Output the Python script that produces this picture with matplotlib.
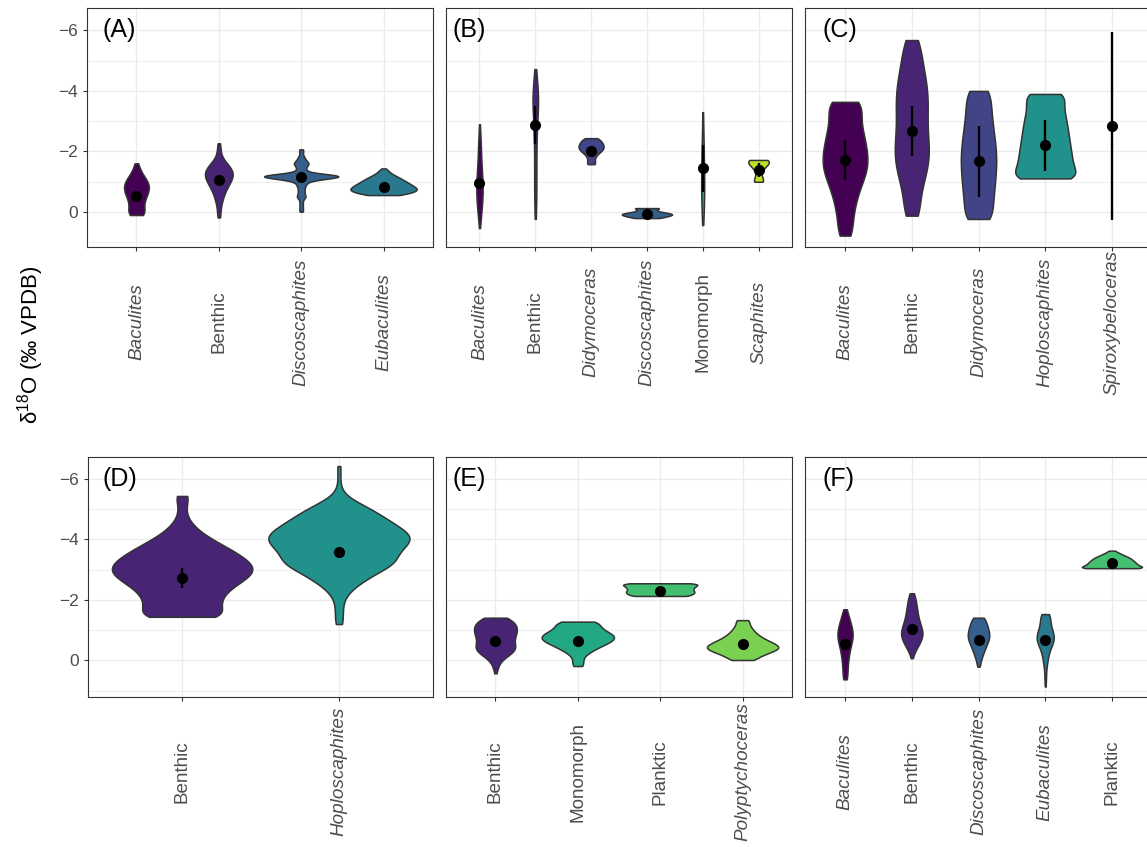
import numpy as np
import matplotlib
matplotlib.use("Agg")
import matplotlib.pyplot as plt
from matplotlib import cbook
from matplotlib.transforms import blended_transform_factory

plt.rcParams["font.family"] = ["Liberation Sans", "DejaVu Sans"]
plt.rcParams["mathtext.fontset"] = "custom"
plt.rcParams["mathtext.rm"] = "Liberation Sans"

# all taxa, in the order used for the colour scale
all_taxa = ["Baculites", "Benthic", "Didymoceras", "Discoscaphites", "Eubaculites",
            "Hoploscaphites", "Monomorph", "Planktic", "Polyptychoceras", "Scaphites",
            "Spiroxybeloceras"]
plain_taxa = ["Benthic", "Monomorph", "Planktic"]

# observations are stored as d18O values with the number of samples at each value

# (A)
a_taxa = ["Baculites", "Benthic", "Discoscaphites", "Eubaculites"]
a_values = [
    [-1.61, -1.5, -1.4, -1.3, -1.2, -1.1, -1.0, -0.9, -0.8, -0.7, -0.6, -0.5, -0.4, -0.3, -0.2, -0.1, 0.0, 0.1],
    [-2.27, -2.2, -2.1, -2.0, -1.9, -1.8, -1.7, -1.6, -1.5, -1.4, -1.3, -1.2, -1.1, -1.0, -0.9, -0.8, -0.7,
     -0.6, -0.5, -0.4, -0.3, -0.2, -0.1, 0.0, 0.1, 0.18],
    [-2.07, -2.0, -1.9, -1.8, -1.7, -1.6, -1.5, -1.4, -1.3, -1.25, -1.2, -1.15, -1.1, -1.05, -1.0, -0.9,
     -0.8, -0.7, -0.6, -0.5, -0.4, -0.3, -0.2, -0.1, -0.01],
    [-1.44, -1.35, -1.25, -1.15, -1.05, -0.95, -0.85, -0.75, -0.65, -0.56],
]
a_counts = [
    [1, 2, 2, 3, 4, 6, 7, 8, 8, 7, 7, 6, 5, 4, 4, 5, 5, 8],
    [1, 1, 1, 1, 1, 2, 3, 5, 7, 8, 9, 9, 8, 7, 6, 5, 4, 3, 3, 2, 2, 1, 1, 1, 1, 1],
    [1, 1, 1, 2, 3, 5, 3, 3, 3, 6, 16, 13, 7, 3, 3, 3, 2, 2, 2, 3, 1, 1, 1, 1, 1],
    [1, 3, 5, 9, 12, 15, 18, 21, 18, 8],
]
a_means = [-0.53, -1.06, -1.15, -0.83]
a_errs = [0.05, 0.05, 0.05, 0.03]

# (B)
b_taxa = ["Baculites", "Benthic", "Didymoceras", "Discoscaphites", "Monomorph", "Scaphites"]
b_values = [
    [-2.9, -2.7, -2.5, -2.3, -2.1, -1.9, -1.7, -1.5, -1.3, -1.1, -0.9, -0.7, -0.5, -0.3, -0.1, 0.1, 0.3, 0.53],
    [-4.72, -4.5, -4.3, -4.1, -3.9, -3.7, -3.5, -3.3, -3.1, -2.9, -2.7, -2.5, -2.3, -2.1, -1.9, -1.7, -1.5,
     -1.3, -1.1, -0.9, -0.7, -0.5, -0.3, -0.1, 0.1, 0.23],
    [-2.44, -2.35, -2.25, -2.15, -2.05, -1.95, -1.85, -1.75, -1.65, -1.58],
    [-0.13, -0.08, -0.03, 0.02, 0.07, 0.12, 0.17, 0.2],
    [-3.3, -3.1, -2.9, -2.7, -2.5, -2.3, -2.1, -1.9, -1.7, -1.5, -1.3, -1.1, -0.9, -0.7, -0.5, -0.3, -0.1,
     0.1, 0.3, 0.43],
    [-1.72, -1.65, -1.55, -1.45, -1.35, -1.25, -1.15, -1.05, -1.0],
]
b_counts = [
    [1, 1, 2, 2, 3, 3, 3, 4, 5, 5, 6, 6, 6, 5, 4, 3, 2, 1],
    [1, 2, 3, 5, 7, 8, 6, 4, 3, 3, 3, 2, 2, 2, 2, 2, 2, 2, 2, 2, 2, 2, 2, 2, 1, 1],
    [6, 9, 11, 12, 11, 7, 4, 3, 3, 4],
    [9, 3, 4, 9, 13, 11, 6, 5],
    [1, 1, 1, 1, 1, 2, 2, 2, 2, 2, 3, 3, 3, 3, 3, 2, 2, 2, 1, 1],
    [12, 9, 8, 5, 3, 2, 3, 4, 5],
]
b_means = [-0.97, -2.87, -2.01, 0.07, -1.45, -1.39]
b_errs = [0.08, 0.63, 0.05, 0.02, 0.78, 0.23]

# (C)
c_taxa = ["Baculites", "Benthic", "Didymoceras", "Hoploscaphites", "Spiroxybeloceras"]
c_values = [
    [-3.64, -3.44, -3.24, -3.04, -2.84, -2.64, -2.44, -2.24, -2.04, -1.84, -1.64, -1.44, -1.24, -1.04,
     -0.84, -0.64, -0.44, -0.24, -0.04, 0.16, 0.36, 0.56, 0.78],
    [-5.68, -5.48, -5.28, -5.08, -4.88, -4.68, -4.48, -4.28, -4.08, -3.88, -3.68, -3.48, -3.28, -3.08,
     -2.88, -2.68, -2.48, -2.28, -2.08, -1.88, -1.68, -1.48, -1.28, -1.08, -0.88, -0.68, -0.48, -0.28,
     -0.08, 0.12],
    [-4.0, -3.8, -3.6, -3.4, -3.2, -3.0, -2.8, -2.6, -2.4, -2.2, -2.0, -1.8, -1.6, -1.4, -1.2, -1.0, -0.8,
     -0.6, -0.4, -0.2, 0.0, 0.23],
    [-3.9, -3.7, -3.5, -3.3, -3.1, -2.9, -2.7, -2.5, -2.3, -2.1, -1.9, -1.7, -1.5, -1.3, -1.11],
    [],
]
c_counts = [
    [32, 17, 17, 17, 18, 20, 22, 23, 24, 25, 26, 25, 23, 20, 17, 15, 13, 11, 10, 9, 8, 8, 12],
    [14, 9, 10, 11, 12, 14, 15, 16, 17, 18, 18, 18, 17, 17, 17, 17, 18, 19, 19, 20, 19, 18, 16, 14, 12,
     10, 9, 8, 8, 16],
    [22, 12, 13, 14, 15, 15, 16, 17, 18, 19, 19, 20, 20, 19, 19, 18, 18, 17, 16, 15, 15, 28],
    [32, 19, 20, 21, 23, 24, 25, 26, 27, 28, 29, 30, 31, 30, 52],
    [],
]
c_means = [-1.72, -2.68, -1.68, -2.2, -2.85]
c_errs = [0.67, 0.83, 1.17, 0.84, 3.1]

# (D)
d_taxa = ["Benthic", "Hoploscaphites"]
d_values = [
    [-5.44, -5.24, -5.04, -4.84, -4.64, -4.44, -4.24, -4.04, -3.84, -3.64, -3.44, -3.24, -3.04, -2.84,
     -2.64, -2.44, -2.24, -2.04, -1.84, -1.64, -1.44],
    [-6.43, -6.23, -6.03, -5.83, -5.63, -5.43, -5.23, -5.03, -4.83, -4.63, -4.43, -4.23, -4.03, -3.83,
     -3.63, -3.43, -3.23, -3.03, -2.83, -2.63, -2.43, -2.23, -2.03, -1.83, -1.63, -1.43, -1.2],
]
d_counts = [
    [8, 3, 3, 3, 5, 9, 14, 21, 30, 38, 46, 52, 56, 54, 46, 39, 32, 30, 29, 27, 45],
    [2, 1, 1, 1, 2, 5, 14, 24, 31, 38, 45, 53, 57, 52, 46, 43, 45, 35, 26, 19, 12, 7, 4, 3, 3, 3, 4],
]
d_means = [-2.72, -3.6]
d_errs = [0.34, 0.05]

# (E)
e_taxa = ["Benthic", "Monomorph", "Planktic", "Polyptychoceras"]
e_values = [
    [-1.41, -1.3, -1.2, -1.1, -1.0, -0.9, -0.8, -0.7, -0.6, -0.5, -0.4, -0.3, -0.2, -0.1, 0.0, 0.1, 0.2,
     0.3, 0.43],
    [-1.28, -1.2, -1.1, -1.0, -0.9, -0.8, -0.7, -0.6, -0.5, -0.4, -0.3, -0.2, -0.1, 0.0, 0.1, 0.19],
    [-2.55, -2.5, -2.45, -2.4, -2.35, -2.3, -2.25, -2.2, -2.13],
    [-1.33, -1.2, -1.1, -1.0, -0.9, -0.8, -0.7, -0.6, -0.5, -0.4, -0.3, -0.2, -0.1, -0.01],
]
e_counts = [
    [10, 11, 12, 13, 13, 12, 12, 11, 10, 12, 13, 11, 9, 6, 3, 2, 2, 1, 1],
    [14, 11, 13, 15, 19, 23, 22, 19, 15, 11, 8, 5, 3, 3, 3, 4],
    [14, 11, 10, 10, 9, 10, 10, 11, 14],
    [6, 4, 5, 6, 8, 10, 13, 17, 21, 23, 18, 13, 8, 8],
]
e_means = [-0.64, -0.64, -2.29, -0.54]
e_errs = [0.05, 0.04, 0.03, 0.04]

# (F)
f_taxa = ["Baculites", "Benthic", "Discoscaphites", "Eubaculites", "Planktic"]
f_values = [
    [-1.69, -1.6, -1.5, -1.4, -1.3, -1.2, -1.1, -1.0, -0.9, -0.8, -0.7, -0.6, -0.5, -0.4, -0.3, -0.2, -0.1,
     0.0, 0.1, 0.2, 0.3, 0.4, 0.5, 0.63],
    [-2.22, -2.1, -2.0, -1.9, -1.8, -1.7, -1.6, -1.5, -1.4, -1.3, -1.2, -1.1, -1.0, -0.9, -0.8, -0.7, -0.6,
     -0.5, -0.4, -0.3, -0.2, -0.07],
    [-1.41, -1.3, -1.2, -1.1, -1.0, -0.9, -0.8, -0.7, -0.6, -0.5, -0.4, -0.3, -0.2, -0.1, 0.0, 0.1, 0.21],
    [-1.53, -1.4, -1.3, -1.2, -1.1, -1.0, -0.9, -0.8, -0.7, -0.6, -0.5, -0.4, -0.3, -0.2, -0.1, 0.0, 0.1,
     0.2, 0.3, 0.4, 0.5, 0.6, 0.7, 0.87],
    [-3.63, -3.58, -3.53, -3.48, -3.43, -3.38, -3.33, -3.28, -3.23, -3.18, -3.13, -3.08, -3.05],
]
f_counts = [
    [2, 3, 4, 5, 6, 7, 8, 9, 10, 10, 9, 8, 7, 6, 5, 5, 4, 4, 3, 3, 3, 3, 3, 5],
    [4, 4, 5, 5, 6, 6, 7, 7, 8, 9, 10, 11, 13, 14, 13, 12, 10, 8, 6, 4, 2, 1],
    [11, 8, 10, 11, 12, 13, 13, 13, 11, 9, 8, 7, 5, 4, 3, 2, 2],
    [10, 6, 6, 6, 7, 8, 10, 11, 11, 10, 8, 6, 5, 4, 3, 3, 2, 2, 1, 1, 1, 1, 1, 1],
    [2, 3, 5, 7, 9, 11, 12, 13, 14, 15, 15, 15, 22],
]
f_means = [-0.54, -1.04, -0.67, -0.67, -3.23]
f_errs = [0.04, 0.05, 0.04, 0.05, 0.03]

colors = dict(zip(all_taxa, plt.cm.viridis(np.linspace(0, 1, len(all_taxa)))))


def nrd0(x):
    # R's default bandwidth, as used by ggplot's geom_violin
    sd = np.std(x, ddof=1)
    iqr = np.subtract(*np.percentile(x, [75, 25]))
    lo = min(sd, iqr / 1.34)
    if lo == 0:
        lo = sd if sd > 0 else 1.0
    return 0.9 * lo * len(x) ** -0.2


def count_density(x, coords):
    # gaussian kde times n (ggplot's scale = "count")
    x = np.asarray(x)
    h = nrd0(x)
    z = (coords[:, None] - x[None, :]) / h
    return np.exp(-0.5 * z ** 2).sum(axis=1) / (h * np.sqrt(2 * np.pi))


W, H = 1147, 847
fig = plt.figure(figsize=(W / 100, H / 100), dpi=100)


def rect(left, top, width, height):
    return [left / W, 1 - (top + height) / H, width / W, height / H]


panels = [
    ("(A)", a_taxa, a_values, a_counts, a_means, a_errs, rect(87, 8, 346, 239), (1.156, -6.74), 15, True),
    ("(B)", b_taxa, b_values, b_counts, b_means, b_errs, rect(446, 8, 346, 239), (1.156, -6.74), 7, False),
    ("(C)", c_taxa, c_values, c_counts, c_means, c_errs, rect(805, 8, 347, 239), (1.156, -6.74), 17, False),
    ("(D)", d_taxa, d_values, d_counts, d_means, d_errs, rect(88, 456.7, 345, 240), (1.205, -6.74), 14, True),
    ("(E)", e_taxa, e_values, e_counts, e_means, e_errs, rect(446, 456.7, 346, 240), (1.205, -6.74), 7, False),
    ("(F)", f_taxa, f_values, f_counts, f_means, f_errs, rect(805, 456.7, 347, 240), (1.205, -6.74), 17, False),
]

for label, taxa, values, counts, means, errs, pos, ylim, lab_off, show_y in panels:
    ax = fig.add_axes(pos)
    n = len(taxa)
    x = np.arange(1, n + 1)

    drawn = [i for i in range(n) if len(values[i]) > 1]
    obs = [np.repeat(values[i], counts[i]) for i in drawn]
    stats = cbook.violin_stats(obs, count_density, points=512)
    peaks = np.array([s["vals"].max() for s in stats])
    widths = 0.9 * peaks / peaks.max()
    parts = ax.violin(stats, positions=x[drawn], widths=widths,
                      showmeans=False, showextrema=False, showmedians=False)
    for body, i in zip(parts["bodies"], drawn):
        body.set_facecolor(colors[taxa[i]])
        body.set_edgecolor("#333333")
        body.set_linewidth(1.1)
        body.set_alpha(1)
        body.set_zorder(2)

    means = np.array(means)
    errs = np.array(errs)
    ax.vlines(x, means - errs, means + errs, color="black", lw=1.7, zorder=3)
    ax.plot(x, means, "o", color="black", ms=7, zorder=4)

    ax.set_xlim(0.4, n + 0.6)
    ax.set_ylim(*ylim)
    ax.set_yticks([-6, -4, -2, 0])
    ax.set_yticks([-5, -3, -1, 1], minor=True)
    ax.set_xticks(x)
    ax.set_xticklabels(taxa, rotation=90, ha="center", va="center")
    for tl, t in zip(ax.get_xticklabels(), taxa):
        tl.set_style("normal" if t in plain_taxa else "italic")

    ax.grid(which="major", color="#EBEBEB", lw=1.0)
    ax.grid(which="minor", axis="y", color="#EBEBEB", lw=0.6)
    ax.set_axisbelow(True)
    for sp in ax.spines.values():
        sp.set_color("#333333")
        sp.set_linewidth(0.8)

    ax.tick_params(axis="x", length=3, pad=51, labelsize=13.6,
                   color="#333333", labelcolor="#4D4D4D")
    ax.tick_params(axis="y", which="minor", length=0)
    if show_y:
        ax.tick_params(axis="y", which="major", length=3, labelsize=12.5,
                       color="#333333", labelcolor="#4D4D4D")
    else:
        ax.tick_params(axis="y", which="major", left=False, labelleft=False)

    tr = blended_transform_factory(ax.transAxes, ax.transData)
    ax.text(lab_off / pos[2] / W, -6, label, transform=tr, ha="left", va="center",
            fontsize=18, color="black")

fig.text(0.027, 0.5927, r"δ$^{\mathrm{18}}$O (‰ VPDB)", rotation=90,
         ha="center", va="center", fontsize=16)

fig.savefig("out.png", dpi=100)
